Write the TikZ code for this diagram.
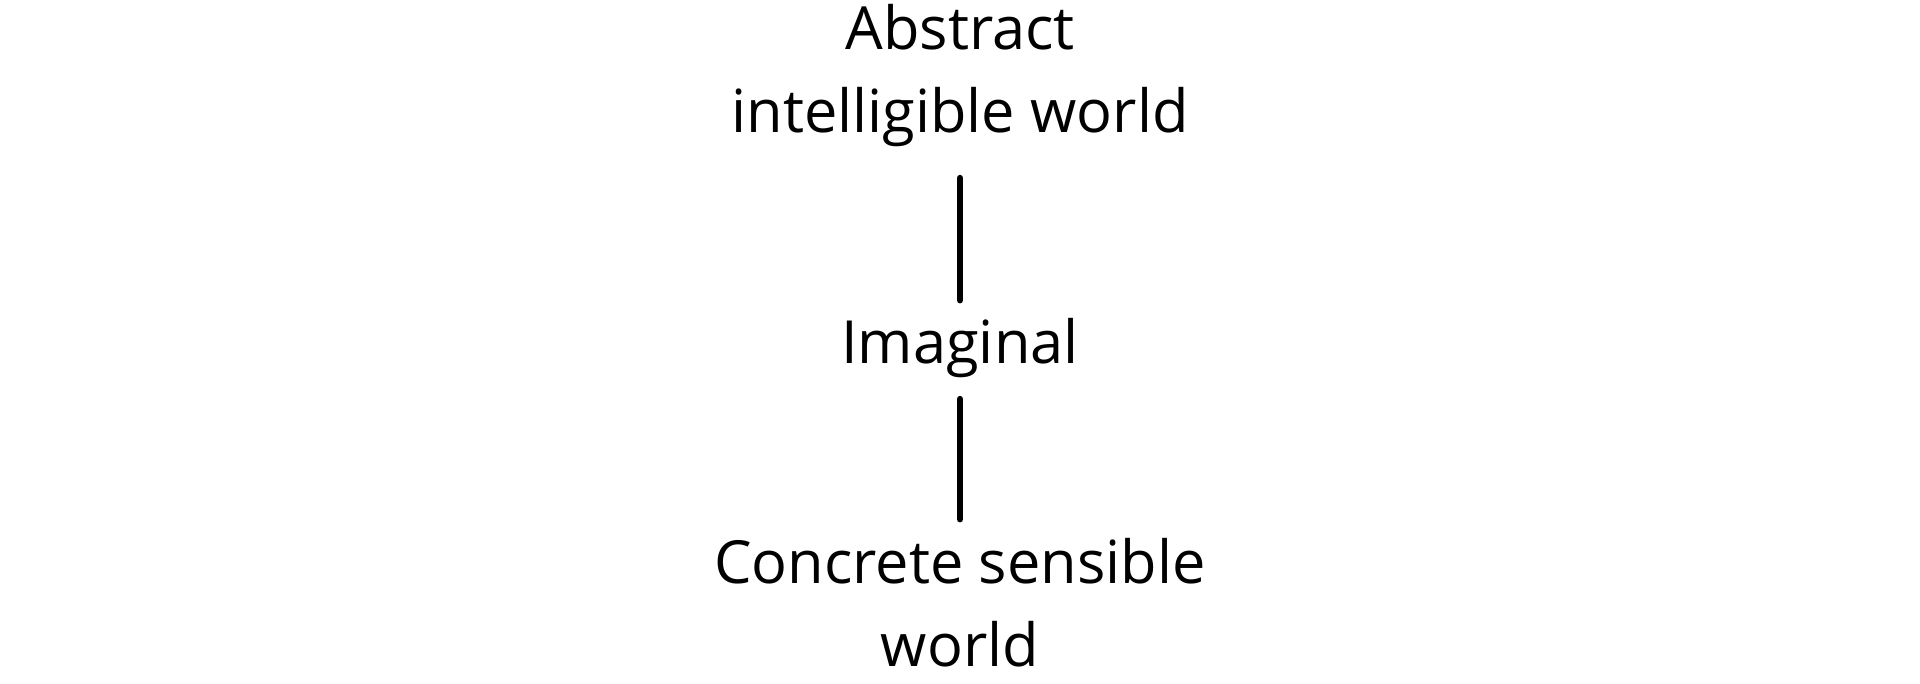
\documentclass[tikz,border=0pt]{standalone}
\usepackage{fontspec}
\setmainfont{Open Sans}
\begin{document}
\begin{tikzpicture}[x=1pt,y=1pt,
  lbl/.style={inner sep=0pt, align=center, font=\fontsize{59.5}{83}\selectfont, anchor=base},
  conn/.style={line width=6.5pt, line cap=round, black}]
\useasboundingbox (0,0) rectangle (1920,684);
\node[lbl] (top) at (960,551) {Abstract\\intelligible world};
\node[lbl] (mid) at (960,320) {Imaginal};
\node[lbl] (bot) at (960,17) {Concrete sensible\\world};
\draw[conn, shorten <=30.6pt, shorten >=18.4pt] (top.south) -- (mid.north);
\draw[conn, shorten <=20.6pt, shorten >=19.4pt] (mid.south) -- (bot.north);
\end{tikzpicture}
\end{document}
